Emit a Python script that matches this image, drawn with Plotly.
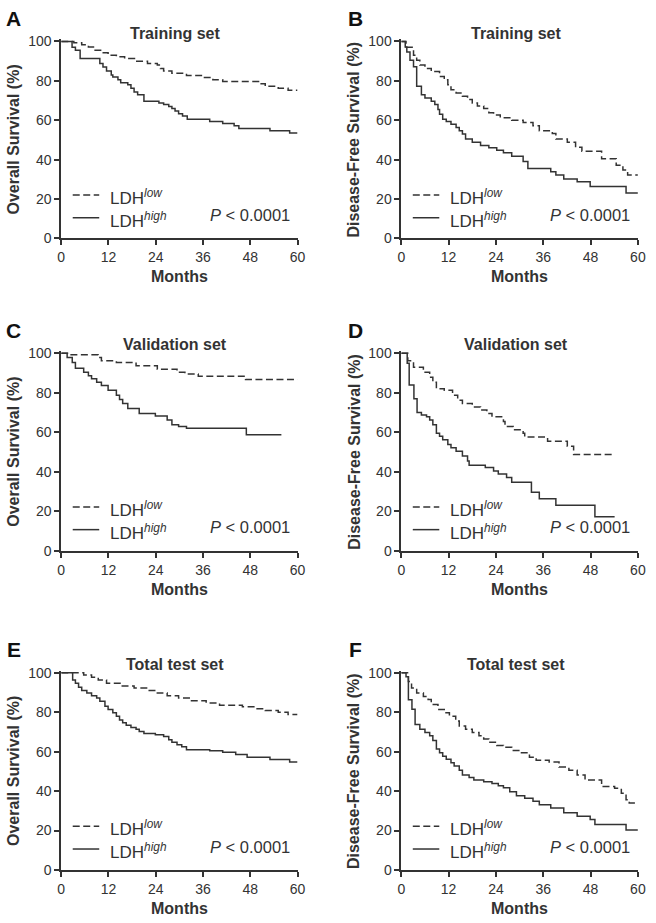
import plotly.graph_objects as go

# ---------------- data ----------------
month_ticks = [0, 12, 24, 36, 48, 60]
pct_ticks = [0, 20, 40, 60, 80, 100]
panel_letters = ["A", "B", "C", "D", "E", "F"]
panel_titles = ["Training set", "Training set", "Validation set", "Validation set",
                "Total test set", "Total test set"]
y_titles = ["Overall Survival (%)", "Disease-Free Survival (%)"] * 3
legend_low = "LDH<sup><i>low</i></sup>"
legend_high = "LDH<sup><i>high</i></sup>"
p_text = "<i>P</i> &lt; 0.0001"

# Panel A: Training set, overall survival
A_low_t = [0, 3.2, 5.2, 6.9, 8.6, 10.2, 11.9, 14.0, 16.1, 18.6, 21.9, 24.4, 25.2, 26.0, 28.1, 31.8,
           36.0, 38.5, 41.0, 50.1, 51.8, 55.1, 57.6, 60]
A_low_s = [100, 99.3, 98.3, 97.2, 95.5, 94.3, 93.0, 92.2, 91.3, 90.0, 88.8, 88.0, 86.3, 85.0, 83.8, 82.7,
           81.7, 80.5, 79.7, 78.5, 77.2, 76.3, 75.2, 75.2]
A_high_t = [0, 2.75, 3.6, 4.8, 9.8, 10.6, 11.5, 12.7, 13.1, 14.4, 15.1, 16.9, 17.7, 18.5, 19.4, 21.0,
            24.8, 26.0, 27.3, 28.1, 28.9, 29.8, 30.8, 32.0, 37.7, 41.0, 43.9, 45.1, 53.0, 58.0, 60]
A_high_s = [100, 97.0, 95.5, 91.3, 88.8, 87.0, 85.0, 83.0, 82.0, 80.5, 79.0, 78.0, 76.3, 74.3, 73.0, 69.7,
            68.8, 68.0, 67.0, 66.0, 64.7, 63.3, 62.2, 60.5, 59.3, 58.3, 57.2, 55.8, 54.7, 53.5, 53.5]

# Panel B: Training set, disease-free survival
B_low_t = [0, 1.2, 3.1, 3.9, 4.7, 6.0, 7.6, 9.7, 10.9, 11.8, 12.6, 13.9, 15.5, 16.8, 18.0, 19.3, 20.9,
           22.2, 23.4, 25.1, 28.0, 30.9, 33.4, 35.0, 38.3, 39.2, 42.1, 44.2, 45.8, 50.8, 54.5, 56.2, 57.4, 60]
B_low_s = [100, 97.0, 93.0, 90.5, 88.0, 86.3, 84.7, 82.2, 80.5, 78.0, 75.5, 73.8, 72.2, 70.5, 68.8, 67.2, 66.0,
           63.8, 62.7, 61.3, 60.0, 58.8, 57.2, 54.7, 53.3, 50.5, 48.8, 46.3, 44.3, 40.5, 37.2, 34.7, 32.2, 32.2]
B_high_t = [0, 1.0, 1.4, 2.2, 3.1, 3.9, 5.1, 6.0, 7.6, 8.5, 9.3, 9.7, 10.5, 11.4, 12.6, 13.9, 14.7, 15.5,
            16.3, 18.0, 20.1, 22.2, 24.2, 25.9, 28.0, 30.9, 32.1, 37.9, 39.2, 41.2, 44.6, 47.9, 57.0, 60]
B_high_s = [100, 97.2, 94.7, 90.5, 87.2, 77.2, 73.0, 71.3, 69.7, 68.0, 65.5, 63.0, 60.5, 59.3, 58.0, 56.3, 54.7, 53.0,
            50.5, 48.8, 47.2, 46.0, 44.7, 43.5, 41.7, 39.0, 35.5, 33.8, 32.2, 30.2, 28.8, 26.3, 23.0, 23.0]

# Panel C: Validation set, overall survival
C_low_t = [0, 2.0, 9.4, 10.2, 14.0, 19.0, 24.4, 29.4, 31.4, 34.8, 46.8, 60]
C_low_s = [100, 99.3, 97.9, 96.2, 95.4, 93.7, 92.0, 90.4, 89.6, 88.4, 86.7, 86.7]
C_high_t = [0, 1.5, 2.8, 3.6, 5.7, 6.9, 7.7, 9.0, 10.2, 11.9, 14.0, 14.8, 15.6, 16.9, 19.8, 23.9,
            26.9, 28.1, 29.8, 31.8, 47.0, 55.9]
C_high_s = [100, 97.9, 95.4, 92.5, 90.4, 88.7, 87.1, 85.4, 83.7, 81.3, 78.8, 76.6, 74.6, 72.1, 69.6, 68.3,
            66.3, 63.8, 63.0, 62.1, 58.8, 58.8]

# Panel D: Validation set, disease-free survival
D_low_t = [0, 1.65, 3.1, 5.6, 7.2, 8.0, 8.9, 10.9, 13.0, 14.3, 15.5, 18.0, 20.1, 21.7, 23.0, 25.9,
           26.3, 28.4, 30.9, 31.3, 37.1, 42.1, 43.7, 54.1]
D_low_s = [100, 96.2, 92.9, 90.4, 87.9, 85.4, 82.1, 81.3, 78.8, 76.3, 74.6, 72.9, 71.3, 69.6, 67.9, 65.5,
           63.0, 61.3, 59.6, 57.6, 55.5, 53.0, 48.8, 48.8]
D_high_t = [0, 1.5, 2.0, 3.2, 4.0, 5.1, 6.4, 7.2, 8.0, 8.9, 9.7, 10.5, 11.8, 12.6, 13.9, 15.5, 16.8,
            17.2, 21.3, 23.4, 24.6, 26.7, 28.0, 33.0, 35.0, 39.2, 49.1, 54.1]
D_high_s = [100, 95.0, 84.0, 77.0, 70.0, 68.8, 67.9, 66.3, 63.8, 59.6, 58.0, 56.3, 53.8, 52.2, 50.5, 48.0, 45.5,
            43.4, 42.2, 40.5, 38.9, 37.2, 34.7, 29.7, 26.4, 23.1, 17.3, 17.3]

# Panel E: Total test set, overall survival
E_low_t = [0, 5.7, 7.7, 9.4, 11.5, 15.2, 18.5, 21.9, 24.4, 26.9, 29.8, 32.7, 36.8, 40.2, 46.0,
           49.3, 51.8, 55.1, 57.6, 60]
E_low_s = [100, 98.8, 97.7, 96.3, 94.7, 93.3, 92.2, 91.0, 89.7, 88.3, 87.2, 85.8, 84.7, 83.5, 82.7,
           81.8, 80.8, 80.0, 78.8, 78.8]
E_high_t = [0, 2.9, 3.6, 4.4, 5.2, 6.5, 7.7, 9.0, 9.8, 11.1, 11.9, 13.1, 14.0, 14.8, 15.6, 16.5, 17.7,
            19.0, 19.8, 21.0, 23.9, 26.0, 27.3, 28.1, 29.4, 30.6, 31.8, 37.7, 41.0, 44.3, 47.2, 53.0, 58.0, 60]
E_high_s = [100, 96.3, 94.7, 92.7, 91.0, 89.7, 88.3, 87.2, 85.5, 83.0, 81.4, 79.7, 78.0, 76.0, 74.7, 73.4, 72.2,
            71.4, 70.2, 69.2, 68.5, 67.7, 66.0, 64.7, 63.5, 62.5, 61.0, 60.5, 59.7, 58.5, 57.2, 56.0, 54.7, 54.7]

# Panel F: Total test set, disease-free survival
F_low_t = [0, 1.8, 2.6, 3.9, 5.6, 6.8, 7.6, 9.3, 10.9, 12.2, 13.8, 14.7, 16.3, 18.0, 19.7, 20.9, 22.2,
           24.2, 25.9, 28.0, 30.0, 32.5, 34.2, 37.5, 40.0, 42.5, 44.6, 46.6, 50.8, 54.1, 55.8, 57.0, 57.8, 60]
F_low_s = [100, 95.5, 92.2, 89.7, 88.0, 86.4, 83.9, 81.4, 79.7, 78.0, 75.5, 73.0, 71.4, 69.7, 68.0, 66.4, 64.7,
           63.1, 62.2, 60.6, 59.4, 57.2, 55.6, 54.7, 52.2, 50.6, 48.1, 45.6, 42.3, 41.4, 38.9, 35.6, 33.9, 33.9]
F_high_t = [0, 1.2, 1.8, 2.7, 3.5, 4.7, 6.0, 7.2, 8.0, 8.9, 9.7, 10.5, 11.4, 12.6, 13.4, 14.7, 15.5,
            17.2, 18.4, 20.9, 23.0, 24.6, 25.9, 27.5, 29.2, 31.3, 33.4, 35.0, 37.9, 41.2, 44.6, 47.9, 49.1, 57.0, 60]
F_high_s = [100, 98.0, 86.3, 81.5, 73.8, 71.4, 69.7, 68.0, 65.6, 61.4, 59.4, 57.7, 56.1, 54.4, 52.7, 50.6, 48.1,
            46.9, 45.6, 44.7, 43.9, 42.7, 41.7, 39.7, 37.7, 36.4, 34.8, 33.1, 31.4, 29.0, 27.3, 25.6, 23.1, 20.3, 20.3]

series = [
    (A_low_t, A_low_s, A_high_t, A_high_s),
    (B_low_t, B_low_s, B_high_t, B_high_s),
    (C_low_t, C_low_s, C_high_t, C_high_s),
    (D_low_t, D_low_s, D_high_t, D_high_s),
    (E_low_t, E_low_s, E_high_t, E_high_s),
    (F_low_t, F_low_s, F_high_t, F_high_s),
]

# ---------------- layout geometry (pixels) ----------------
W, H = 656, 923
cols = [(58.3, 299.0), (404.7, 645.7)]
rows = [(36.0, 236.0), (352.7, 553.3), (677.0, 877.3)]
YMAX = 101
INK = "#333333"
FONT = "Liberation Sans, Arial, sans-serif"


def px(x, y):
    return x / W, 1 - y / H


fig = go.Figure()
annotations = []
shapes = []

for i in range(6):
    r, c = divmod(i, 2)
    x0, x1 = cols[c]
    top, bot = rows[r]
    ppu = (bot - top) / 100.0
    top_ext = bot - YMAX * ppu
    ax = "" if i == 0 else str(i + 1)
    xa, ya = "x" + ax, "y" + ax
    lt, ls, ht, hs = series[i]
    fig.add_trace(go.Scatter(x=lt, y=ls, mode="lines", line_shape="hv",
                             line=dict(color=INK, width=1.5, dash="7px,3.5px"),
                             xaxis=xa, yaxis=ya, showlegend=False, hoverinfo="skip"))
    fig.add_trace(go.Scatter(x=ht, y=hs, mode="lines", line_shape="hv",
                             line=dict(color=INK, width=1.5),
                             xaxis=xa, yaxis=ya, showlegend=False, hoverinfo="skip"))
    axcommon = dict(showgrid=False, zeroline=False, showline=True, linecolor=INK, linewidth=1.6,
                    ticks="outside", ticklen=5, tickwidth=1.6, tickcolor=INK,
                    tickfont=dict(family=FONT, size=14, color=INK), fixedrange=True)
    fig.update_layout(**{
        "xaxis" + ax: dict(domain=[x0 / W, x1 / W], range=[0, 60], tickvals=month_ticks,
                           anchor=ya, **axcommon),
        "yaxis" + ax: dict(domain=[1 - bot / H, 1 - top_ext / H], range=[0, YMAX], tickvals=pct_ticks,
                           anchor=xa, **axcommon),
    })
    cx = (x0 + x1) / 2
    # panel letter
    lx, ly = px(x0 - 48.3 if c == 0 else x0 - 46.7, top - 23.5)
    annotations.append(dict(text="<b>%s</b>" % panel_letters[i], x=lx, y=ly, xref="paper", yref="paper",
                            xanchor="center", yanchor="middle", showarrow=False,
                            font=dict(family=FONT, size=21, color="#111111")))
    # title
    tx, ty = px(x0 + 29 * (x1 - x0) / 60, top - 8.5)
    annotations.append(dict(text="<b>%s</b>" % panel_titles[i], x=tx, y=ty, xref="paper", yref="paper",
                            xanchor="center", yanchor="middle", showarrow=False,
                            font=dict(family=FONT, size=16, color=INK)))
    # y title
    yx, yy = px(x0 - 48.5, (top + bot) / 2)
    annotations.append(dict(text="<b>%s</b>" % y_titles[i], x=yx, y=yy, xref="paper", yref="paper",
                            xanchor="center", yanchor="middle", textangle=-90, showarrow=False,
                            font=dict(family=FONT, size=16, color=INK)))
    # x title
    mx, my = px(cx, bot + 39)
    annotations.append(dict(text="<b>Months</b>", x=mx, y=my, xref="paper", yref="paper",
                            xanchor="center", yanchor="middle", showarrow=False,
                            font=dict(family=FONT, size=16, color=INK)))
    # legend lines
    for dy, dash in ((156, "7px,3.5px"), (179, "solid")):
        sx0, sy = px(x0 + 11.7, top + dy)
        sx1, _ = px(x0 + 38.7, top + dy)
        shapes.append(dict(type="line", xref="paper", yref="paper", x0=sx0, x1=sx1, y0=sy, y1=sy,
                           line=dict(color=INK, width=1.5, dash=dash)))
    # legend text
    for dy, txt in ((158, legend_low), (181, legend_high)):
        gx, gy = px(x0 + 47.7, top + dy)
        annotations.append(dict(text=txt, x=gx, y=gy, xref="paper", yref="paper",
                                xanchor="left", yanchor="middle", showarrow=False,
                                font=dict(family=FONT, size=17, color=INK)))
    # p value
    qx, qy = px(x0 + 149.7, top + 176.5)
    annotations.append(dict(text=p_text, x=qx, y=qy, xref="paper", yref="paper",
                            xanchor="left", yanchor="middle", showarrow=False,
                            font=dict(family=FONT, size=16.5, color=INK)))

fig.update_layout(width=W, height=H, margin=dict(l=0, r=0, t=0, b=0),
                  paper_bgcolor="white", plot_bgcolor="white",
                  annotations=annotations, shapes=shapes, showlegend=False)

fig.write_html("out.html", config={"displayModeBar": False},
               post_script="document.body.style.margin='0';document.body.style.overflow='hidden';")
